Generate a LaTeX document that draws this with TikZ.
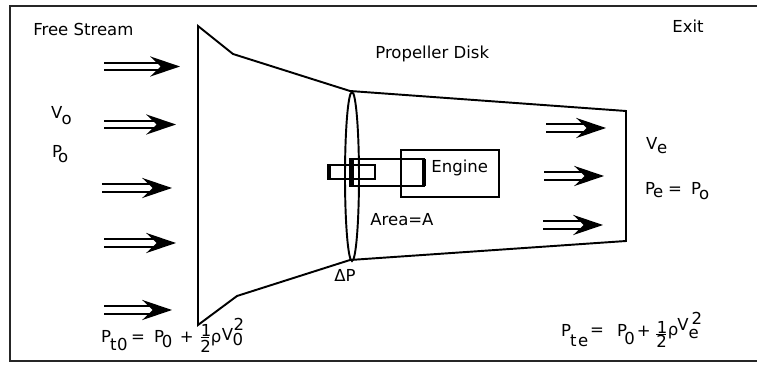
\documentclass[tikz,border=0pt]{standalone}
\usepackage{fontspec}
\setmainfont{DejaVu Sans}
\usetikzlibrary{arrows.meta,positioning}
\newlength{\pxu}
\setlength{\pxu}{0.5669pt}
\newcommand{\piece}[3]{\rlap{\hspace{#1\pxu}\raisebox{#2\pxu}{#3}}}
\tikzset{
  flowarrow/.style={line width=1pt,double,double distance=3.4pt,-{Stealth[length=17pt,width=11.5pt,inset=6pt]}},
  outline/.style={line width=1.1pt},
  label/.style={inner sep=0pt,anchor=west,font=\fontsize{9.4}{11}\selectfont},
  formula/.style={inner sep=0pt,anchor=base west,font=\fontsize{9.4}{11}\selectfont},
}
\begin{document}
\begin{tikzpicture}
\useasboundingbox (0,0) rectangle (15.14,7.3);
\draw[line width=1.2pt,black!85] (15.14,7.18) -- (0.2,7.18) -- (0.2,0.08) -- (15.14,0.08);
\draw[outline] (3.96,6.78) -- (4.66,6.22) -- (7.0,5.48) -- (12.52,5.08) -- (12.52,2.48) -- (7.0,2.10) -- (4.74,1.38) -- (3.96,0.80) -- cycle;
\draw[outline] (7.04,3.77) ellipse (0.14 and 1.69);
\draw[outline] (8.02,3.36) rectangle (9.98,4.30);
\draw[line width=0.9pt] (7.02,3.58) rectangle (8.48,4.12);
\draw[line width=0.9pt] (6.58,3.72) rectangle (7.5,4.0);
\draw[line width=2.4pt] (7.03,3.56) -- (7.03,4.14);
\draw[line width=1.8pt] (8.48,3.58) -- (8.48,4.12);
\draw[line width=2pt] (6.58,3.70) -- (6.58,4.02);
\draw[line width=1.4pt] (7.5,3.74) -- (7.5,3.98);
\foreach \sx/\ex/\ya in {2.08/3.6/5.97,2.08/3.52/4.81,2.04/3.44/3.54,2.08/3.52/2.44,2.08/3.44/1.1,10.92/12.12/4.74,10.88/12.08/3.78,10.86/12.06/2.8}
  \draw[flowarrow] (\sx,\ya) -- (\ex,\ya);
\node[label] (freestream) at (0.66,6.72) {Free Stream};
\node[label] (propeller) at (7.5,6.22) {Propeller Disk};
\node[label] (exit) at (13.44,6.78) {Exit};
\node[formula] (vzero) at (1.0,4.92) {\piece{0}{0}{V}\piece{10.5}{-6}{o}};
\node[formula] (pzero) at (1.02,4.14) {\piece{0}{0}{P}\piece{6}{-5}{o}};
\node[label] (engine) at (8.62,3.94) {Engine};
\node[label] (area) at (7.4,2.9) {Area=A};
\node[label] (deltap) at (6.68,1.8) {ΔP};
\node[formula] (vexit) at (12.9,4.3) {\piece{0}{0}{V}\piece{11}{-4}{e}};
\node[formula] (pexit) at (12.88,3.4) {\piece{0}{0}{P}\piece{8}{-3}{e}\piece{23}{0}{=}\piece{46}{0}{P}\piece{54}{-5}{o}};
\node[formula] (ptzero) at (2.0,0.44) {\piece{0}{0}{P}\piece{9}{-8}{t}\piece{16}{-8}{0}\piece{30}{0}{=}\piece{53}{1}{P}\piece{61}{-5}{0}\piece{79}{0}{+}\piece{100}{7}{1}\piece{100}{5}{\rule{8\pxu}{0.7pt}}\piece{99.5}{-10}{2}\piece{110}{1}{ρ}\piece{121}{3}{V}\piece{132}{-3}{0}\piece{133}{13}{2}};
\node[formula] (ptexit) at (11.2,0.56) {\piece{0}{0}{P}\piece{9}{-10}{t}\piece{17}{-10}{e}\piece{29}{2}{=}\piece{56}{0}{P}\piece{63.5}{-8}{0}\piece{76}{0}{+}\piece{96}{4}{1}\piece{95.5}{2}{\rule{10\pxu}{0.7pt}}\piece{95.5}{-11}{2}\piece{107}{2}{ρ}\piece{116.5}{7}{V}\piece{128}{-2}{e}\piece{131}{13}{2}};
\end{tikzpicture}
\end{document}
